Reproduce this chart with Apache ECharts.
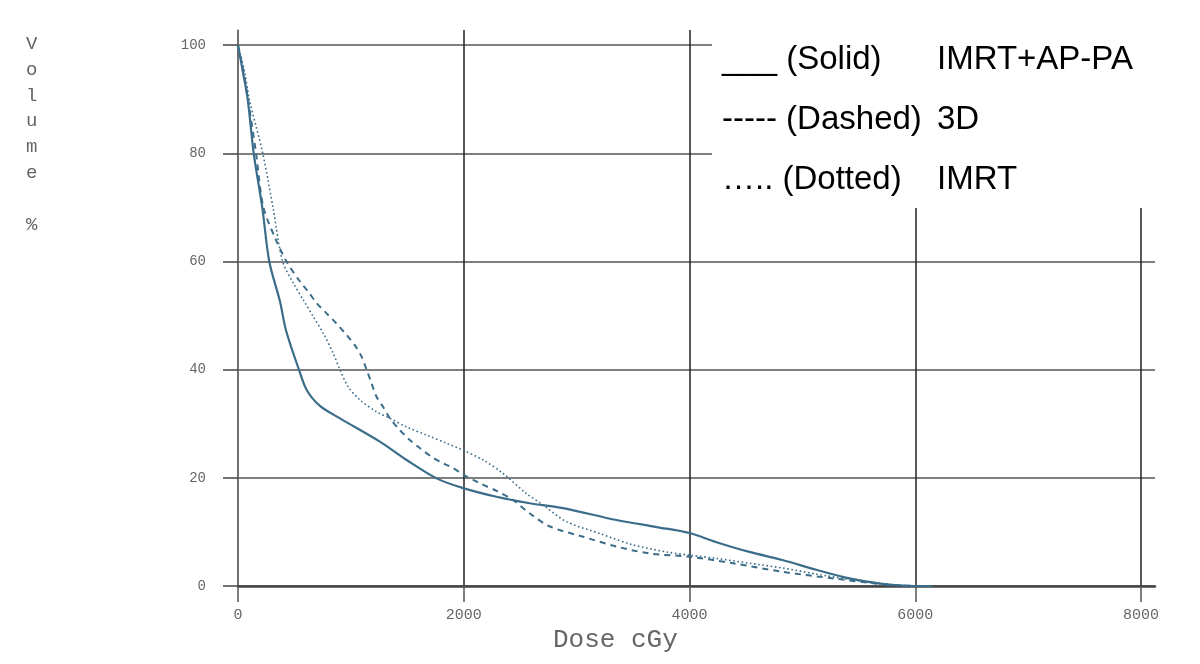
<!DOCTYPE html>
<html>
<head>
<meta charset="utf-8">
<script src="https://cdn.jsdelivr.net/npm/echarts@6/dist/echarts.min.js"></script>
<style>
  html, body { margin: 0; padding: 0; background: #fff; }
  #main { width: 1200px; height: 664px; }
</style>
</head>
<body>
<div id="main"></div>
<script>
var xTicks = [0, 2000, 4000, 6000, 8000];
var yTicks = [0, 20, 40, 60, 80, 100];

// IMRT+AP-PA (solid)
var doseSolid = [0, 44, 86, 139, 215, 277, 372, 425, 540, 610, 726, 903, 1257, 1494, 1759, 1995, 2290, 2585, 2880, 3354, 3708, 4000, 4239, 4531, 4823, 5124, 5416, 5708, 5991, 6150];
var volSolid  = [100, 95, 90, 80, 70, 60, 52.6, 47.3, 40, 36.2, 33.3, 31, 26.7, 23.3, 19.9, 18.1, 16.5, 15.3, 14.4, 12.2, 10.9, 9.8, 8.1, 6.3, 4.8, 3.0, 1.4, 0.4, 0, 0];

// 3D (dashed)
var doseDashed = [0, 50, 88, 160, 224, 330, 430, 549, 623, 697, 785, 874, 962, 1036, 1095, 1139, 1183, 1227, 1286, 1346, 1434, 1522, 1611, 1715, 1818, 1907, 1995, 2142, 2290, 2437, 2586, 2763, 3058, 3353, 3649, 4004, 4388, 4830, 5273, 5627, 5863, 6000];
var volDashed  = [100, 95, 90, 80, 70.1, 64.3, 60, 56.3, 54.4, 52.3, 50.4, 48.5, 46.4, 44.5, 42.4, 40, 37.5, 35, 33.1, 31, 28.8, 27, 25.5, 23.9, 22.7, 21.8, 20.6, 19, 17.6, 15.9, 13.4, 11, 9.1, 7.3, 6, 5.4, 4.2, 2.6, 1.4, 0.5, 0.1, 0];

// IMRT (dotted)
var doseDotted = [0, 59, 100, 219, 310, 395, 490, 578, 667, 756, 844, 903, 977, 1081, 1228, 1346, 1494, 1671, 1848, 1995, 2172, 2349, 2555, 2702, 2909, 3206, 3501, 3796, 4000, 4239, 4534, 4830, 5125, 5420, 5716, 6000, 6150];
var volDotted  = [100, 95, 90, 80, 70, 60, 56, 52.9, 49.8, 46.7, 43, 40, 36.8, 34.4, 32.2, 31, 29.4, 27.9, 26.4, 25.1, 23.3, 20.8, 17.1, 15, 11.9, 9.7, 7.6, 6.3, 5.7, 5.1, 4.2, 3.3, 2.2, 1.2, 0.4, 0, 0];

var legendText = {
  'IMRT+AP-PA': ['___ (Solid)', 'IMRT+AP-PA'],
  '3D': ['----- (Dashed)', '3D'],
  'IMRT': ['….. (Dotted)', 'IMRT']
};

function pairs(xs, ys) {
  return xs.map(function (x, i) { return [x, ys[i]]; });
}

var lineColor = '#3b6d8a';
var mono = '"Liberation Mono", "DejaVu Sans Mono", monospace';
var sans = '"Liberation Sans", Arial, sans-serif';

var chart = echarts.init(document.getElementById('main'));
var option = {
  animation: false,
  backgroundColor: '#fff',
  grid: { left: 238, right: 45, top: 30, bottom: 78 },
  xAxis: {
    type: 'value',
    min: 0, max: 8124, interval: 2000,
    axisLine: { show: true, onZero: false, lineStyle: { color: '#444', width: 2.5 } },
    axisTick: { show: true, length: 16, customValues: xTicks, lineStyle: { color: '#555', width: 1.5 } },
    axisLabel: {
      customValues: xTicks, margin: 22, color: '#666', fontFamily: mono, fontSize: 15,
      formatter: function (v) { return String(v); }
    },
    splitLine: { show: true, lineStyle: { color: '#222', width: 1.5 } }
  },
  yAxis: {
    type: 'value',
    min: 0, max: 102.8, interval: 20,
    axisLine: { show: true, lineStyle: { color: '#777', width: 1.5 } },
    axisTick: { show: true, length: 15, customValues: yTicks, lineStyle: { color: '#444', width: 1.5 } },
    axisLabel: {
      customValues: yTicks, margin: 32, color: '#666', fontFamily: mono, fontSize: 14,
      formatter: function (v) { return String(v); }
    },
    splitLine: { show: true, lineStyle: { color: '#555', width: 1.5 } }
  },
  legend: {
    left: 712, top: 22,
    orient: 'vertical',
    backgroundColor: '#fff',
    padding: [21, 8, 12, 5],
    itemGap: 27,
    itemWidth: 0, itemHeight: 0,
    icon: 'rect',
    selectedMode: false,
    data: ['IMRT+AP-PA', '3D', 'IMRT'],
    formatter: function (name) {
      return '{a|' + legendText[name][0] + '}{b|' + legendText[name][1] + '}';
    },
    textStyle: {
      color: '#000',
      fontFamily: sans,
      fontSize: 33,
      rich: {
        a: { width: 215, fontSize: 33, lineHeight: 36, color: '#000', fontFamily: sans },
        b: { width: 210, fontSize: 33, lineHeight: 36, color: '#000', fontFamily: sans }
      }
    }
  },
  graphic: [
    {
      type: 'text', left: 26, top: 31,
      style: { text: 'V\no\nl\nu\nm\ne\n\n%', fill: '#666', font: '19px ' + mono, lineHeight: 25.8 }
    },
    {
      type: 'text', left: 553, top: 627,
      style: { text: 'Dose cGy', fill: '#666', font: '26px ' + mono }
    }
  ],
  series: [
    {
      name: 'IMRT+AP-PA', type: 'line', data: pairs(doseSolid, volSolid),
      smooth: 0.3, showSymbol: false, symbol: 'none',
      lineStyle: { color: lineColor, width: 2.2, type: 'solid' },
      itemStyle: { color: lineColor }, emphasis: { disabled: true }
    },
    {
      name: '3D', type: 'line', data: pairs(doseDashed, volDashed),
      smooth: 0.3, showSymbol: false, symbol: 'none',
      lineStyle: { color: lineColor, width: 2, type: [6, 5] },
      itemStyle: { color: lineColor }, emphasis: { disabled: true }
    },
    {
      name: 'IMRT', type: 'line', data: pairs(doseDotted, volDotted),
      smooth: 0.3, showSymbol: false, symbol: 'none',
      lineStyle: { color: lineColor, width: 1.6, type: [1.6, 2.6] },
      itemStyle: { color: lineColor }, emphasis: { disabled: true }
    }
  ]
};
chart.setOption(option);
window.onresize = chart.resize;
</script>
</body>
</html>
